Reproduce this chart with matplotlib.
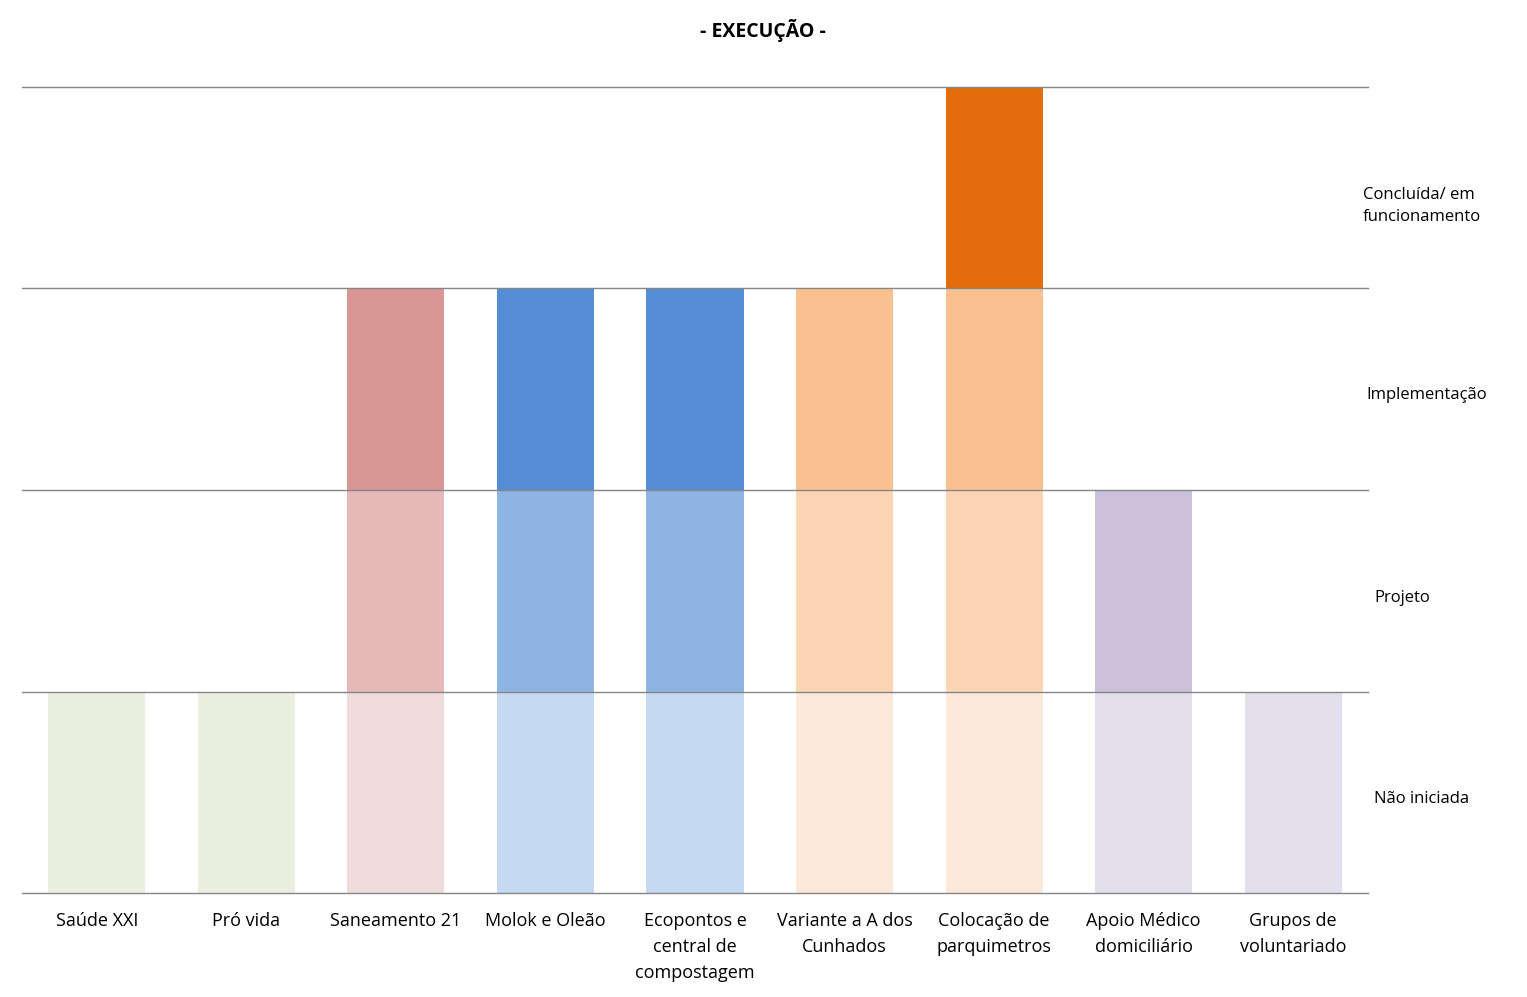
import matplotlib
matplotlib.use('Agg')
import matplotlib.pyplot as plt
import numpy as np

plt.rcParams['font.family'] = ['Open Sans', 'DejaVu Sans']

# projects and the number of stages each has reached (1 = Não iniciada ... 4 = Concluída)
projects = ['Saúde XXI', 'Pró vida', 'Saneamento 21', 'Molok e Oleão',
            'Ecopontos e\ncentral de\ncompostagem', 'Variante a A dos\nCunhados',
            'Colocação de\nparquimetros', 'Apoio Médico\ndomiciliário', 'Grupos de\nvoluntariado']
stages_reached = [1, 1, 3, 3, 3, 3, 4, 2, 1]
stage_names = ['Não iniciada', 'Projeto', 'Implementação', 'Concluída/ em\nfuncionamento']

# colour per stage, per project palette
palettes = {
    'green': ['#EBEFDF'],
    'red': ['#F0DBDB', '#E6B8B7', '#DA9694'],
    'blue': ['#C5D9F1', '#8EB4E3', '#558ED5'],
    'orange': ['#FDE9D9', '#FCD5B4', '#FAC090', '#E46C0A'],
    'purple': ['#E4DFEC', '#CCC1DA'],
}
project_palette = ['green', 'green', 'red', 'blue', 'blue', 'orange', 'orange', 'purple', 'purple']

W, H = 1527, 997
fig = plt.figure(figsize=(W / 100, H / 100), dpi=100)
ax = fig.add_axes([22 / W, 1 - 893 / H, 1346 / W, 806 / H])

x = np.arange(len(projects))
for i, n in enumerate(stages_reached):
    pal = palettes[project_palette[i]]
    for s in range(n):
        ax.bar(x[i], 1, bottom=s, width=0.65, color=pal[s], zorder=1)

for y in range(5):
    ax.axhline(y, color='#868686', linewidth=1, zorder=2, clip_on=False)

ax.set_xlim(-0.5, len(projects) - 0.5)
ax.set_ylim(0, 4)
for side in ax.spines.values():
    side.set_visible(False)
ax.set_yticks([])
ax.set_xticks(x)
ax.set_xticklabels(projects, fontsize=13, linespacing=1.55, va='top')
ax.tick_params(axis='x', length=0, pad=14)

# stage labels to the right of the plot (figure pixel positions)
label_px = [(1422, 799, 'center'), (1402, 598, 'center'),
            (1427, 395, 'center'), (1363, 206, 'left')]
for name, (px, py, ha) in zip(stage_names, label_px):
    fig.text(px / W, 1 - py / H, name, fontsize=12, ha=ha, va='center',
             linespacing=1.55)

fig.text(763 / W, 1 - 31 / H, '- EXECUÇÃO -', fontsize=14, fontweight='bold',
         ha='center', va='center')

fig.savefig('out.png', dpi=100)
